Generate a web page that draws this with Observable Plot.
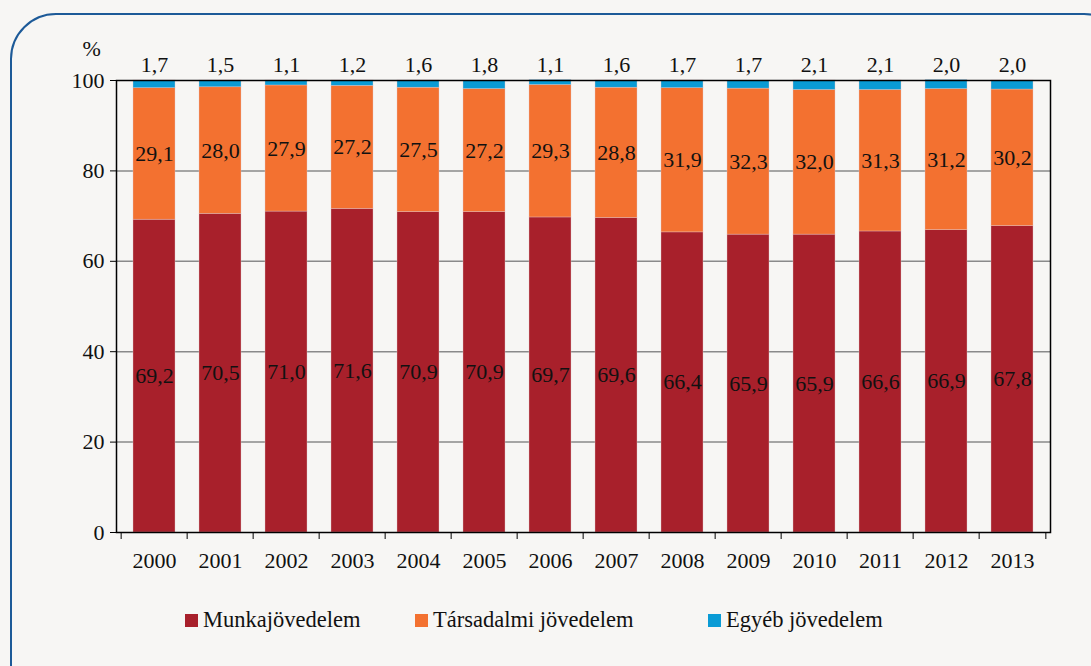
<!DOCTYPE html>
<html>
<head>
<meta charset="utf-8">
<script src="https://cdn.jsdelivr.net/npm/d3@7"></script>
<script src="https://cdn.jsdelivr.net/npm/@observablehq/plot@0.6"></script>
<style>
  html, body { margin: 0; padding: 0; background: #f7f6f4; width: 1091px; height: 666px; overflow: hidden; }
  #box { position: absolute; left: 10px; top: 13px; width: 1120px; height: 700px; border: 2px solid #1d5a98; border-radius: 46px; box-sizing: border-box; }
  #chart { position: absolute; left: 0; top: 0; }
  #chart svg text { font-family: "Liberation Serif", "DejaVu Serif", serif; }
  #legend { position: absolute; top: 607px; left: 0; width: 1091px; height: 28px; font-family: "Liberation Serif", "DejaVu Serif", serif; font-size: 22.5px; color: #111; }
  .item { position: absolute; top: 0; display: flex; align-items: center; }
  .sw { width: 13px; height: 13px; margin-right: 5px; }
</style>
</head>
<body>
<div id="box"></div>
<div id="chart"></div>
<div id="legend"></div>
<script>
const years = ["2000","2001","2002","2003","2004","2005","2006","2007","2008","2009","2010","2011","2012","2013"];
const munka = [69.2,70.5,71.0,71.6,70.9,70.9,69.7,69.6,66.4,65.9,65.9,66.6,66.9,67.8];
const tarsadalmi = [29.1,28.0,27.9,27.2,27.5,27.2,29.3,28.8,31.9,32.3,32.0,31.3,31.2,30.2];
const egyeb = [1.7,1.5,1.1,1.2,1.6,1.8,1.1,1.6,1.7,1.7,2.1,2.1,2.0,2.0];
const seriesNames = ["Munkajövedelem","Társadalmi jövedelem","Egyéb jövedelem"];
const seriesColors = ["#a8202b","#f37130","#0a9bd5"];
const yTicks = [0,20,40,60,80,100];
const gridTicks = [20,40,60,80];

const seriesValues = [munka, tarsadalmi, egyeb];
const rows = [];
years.forEach((yr, i) => {
  let base = 0;
  seriesValues.forEach((vals, s) => {
    rows.push({year: yr, series: seriesNames[s], value: vals[i], y1: base, y2: base + vals[i]});
    base += vals[i];
  });
});
const fmt = v => v.toFixed(1).replace(".", ",");

const W = 1091, H = 600, ML = 116, MR = 41, MT = 80, MB = 68;
const step = (W - ML - MR) / years.length;
const font = "'Liberation Serif', 'DejaVu Serif', serif";
const FS = 22;

const chart = Plot.plot({
  width: W,
  height: H,
  marginLeft: ML,
  marginRight: MR,
  marginTop: MT,
  marginBottom: MB,
  style: {background: "transparent", fontFamily: font, fontSize: FS + "px", color: "#111"},
  x: {domain: years, paddingInner: 0.37, paddingOuter: 0.185, axis: null},
  y: {domain: [0, 100], axis: null},
  color: {domain: seriesNames, range: seriesColors},
  marks: [
    Plot.ruleY(gridTicks, {stroke: "#8a8a8a", strokeWidth: 1.5}),
    Plot.rectY(rows, {x: "year", y1: "y1", y2: "y2", fill: "series", stroke: "#e8c8c8", strokeWidth: 0.6, strokeOpacity: 0.6}),
    Plot.text(rows.filter(d => d.series !== "Egyéb jövedelem"), {
      x: "year", y: d => (d.y1 + d.y2) / 2, text: d => fmt(d.value),
      fill: "#111", fontSize: FS
    }),
    Plot.text(rows.filter(d => d.series === "Egyéb jövedelem"), {
      x: "year", y: 100, text: d => fmt(d.value), dy: -16,
      fill: "#111", fontSize: FS
    }),
    Plot.frame({stroke: "#000", strokeWidth: 1.5}),
    Plot.axisY({ticks: yTicks, tickSize: 6, tickPadding: 6, tickFormat: d => d, fontSize: FS, label: null, stroke: "#000"}),
    Plot.axisX({ticks: years, tickSize: 0, tickPadding: 20, fontSize: FS, label: null}),
    Plot.axisX({ticks: years, tickSize: 7, text: null, dx: -step / 2, label: null, stroke: "#000"}),
    Plot.axisX({ticks: [years[years.length - 1]], tickSize: 7, text: null, dx: step / 2, label: null, stroke: "#000"}),
    Plot.text(["%"], {frameAnchor: "top-left", text: d => d, dx: -34, dy: -40, fontSize: FS, fill: "#111"})
  ]
});
document.getElementById("chart").appendChild(chart);

const legend = document.getElementById("legend");
const legendX = [185, 415, 708];
seriesNames.forEach((name, i) => {
  const it = document.createElement("div");
  it.className = "item";
  it.style.left = legendX[i] + "px";
  const sw = document.createElement("div");
  sw.className = "sw";
  sw.style.background = seriesColors[i];
  const tx = document.createElement("span");
  tx.textContent = name;
  it.appendChild(sw);
  it.appendChild(tx);
  legend.appendChild(it);
});
</script>
</body>
</html>
